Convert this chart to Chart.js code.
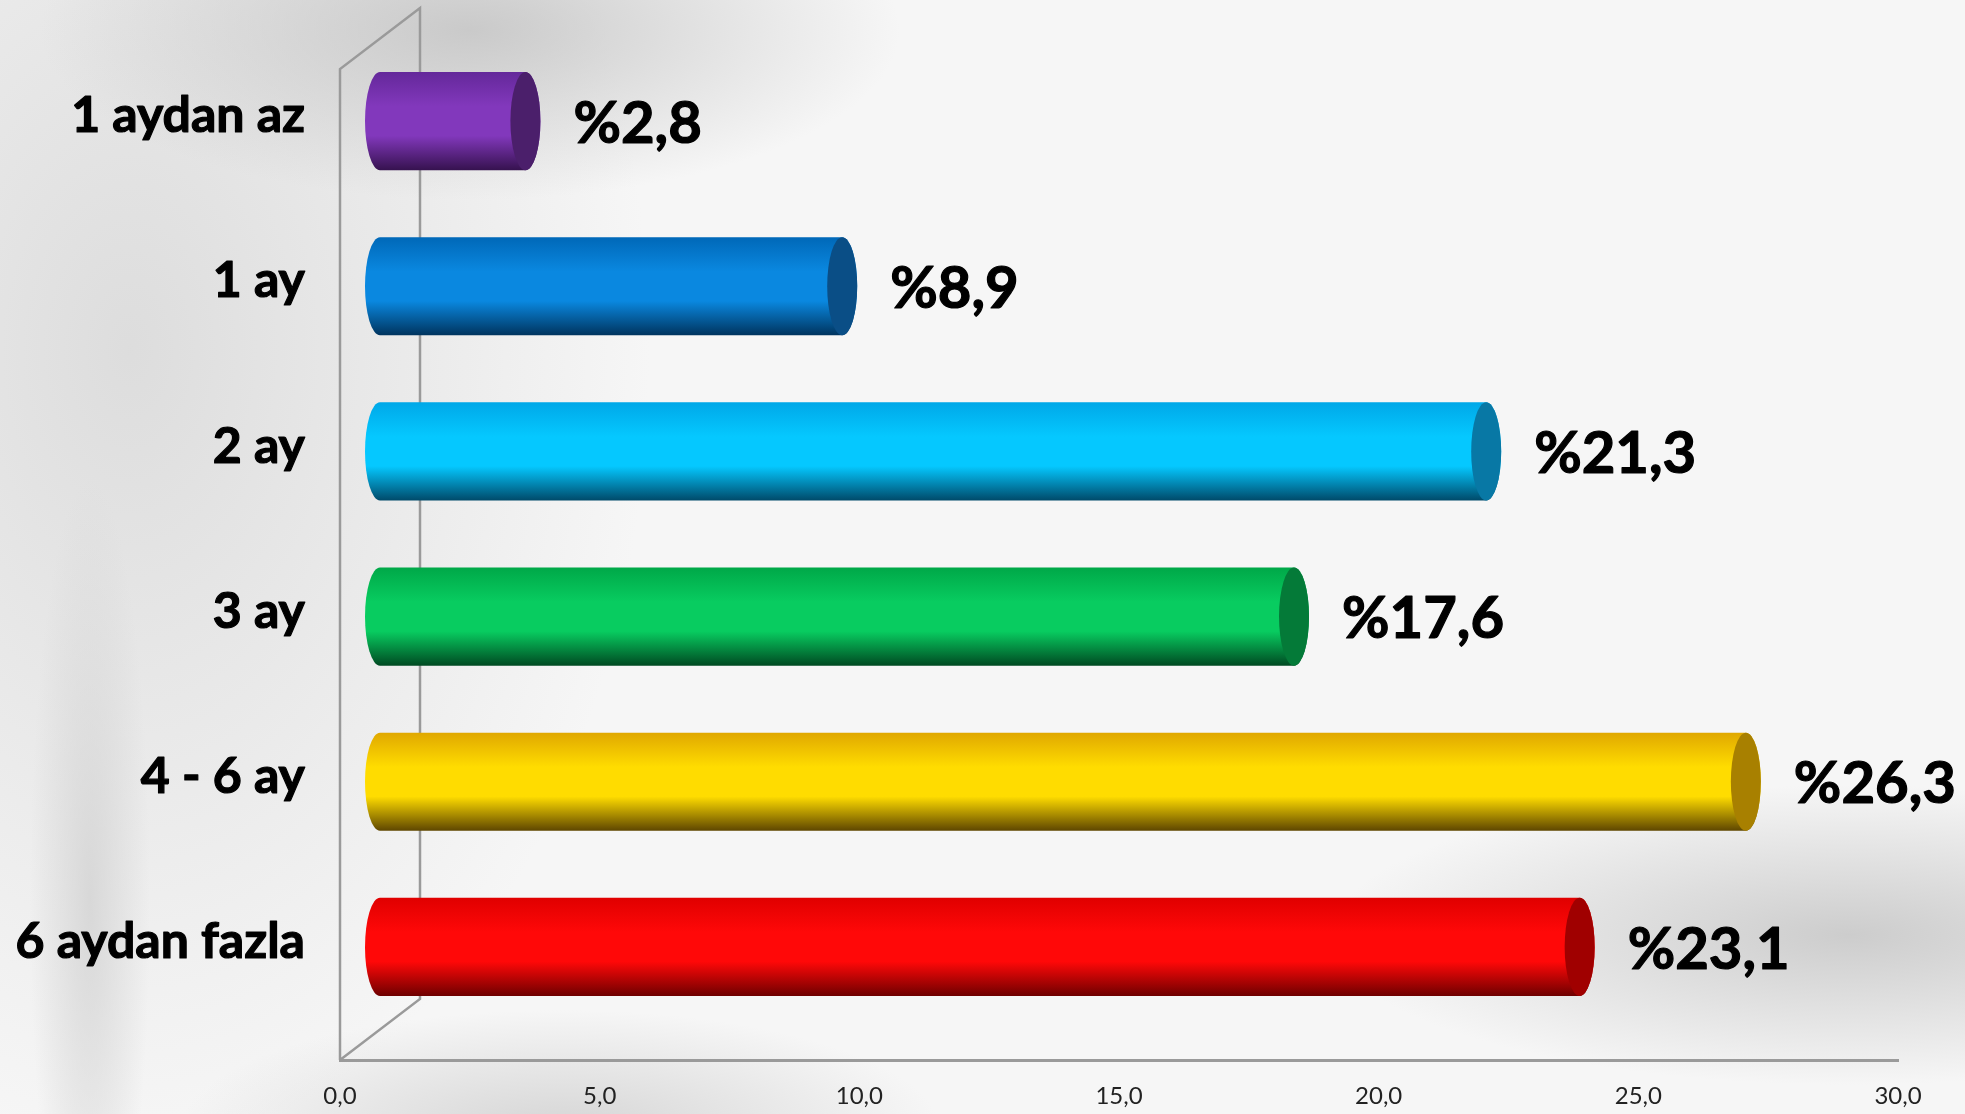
<!DOCTYPE html>
<html>
<head>
<meta charset="utf-8">
<script src="https://cdn.jsdelivr.net/npm/chart.js@4"></script>
<style>
  html, body { margin: 0; padding: 0; }
  body {
    width: 1965px;
    height: 1114px;
    overflow: hidden;
    background:
      radial-gradient(ellipse 430px 170px at 470px 30px, rgba(195,195,195,0.85), rgba(200,200,200,0)),
      radial-gradient(ellipse 520px 150px at 1850px 935px, rgba(200,200,200,0.9), rgba(200,200,200,0)),
      radial-gradient(ellipse 380px 120px at 560px 1130px, rgba(205,205,205,0.8), rgba(205,205,205,0)),
      radial-gradient(ellipse 60px 420px at 90px 900px, rgba(210,210,210,0.8), rgba(210,210,210,0)),
      radial-gradient(ellipse 520px 800px at 130px 350px, rgba(218,218,218,0.9), rgba(225,225,225,0)),
      #f6f6f6;
  }
  canvas { display: block; }
</style>
</head>
<body>
<canvas id="chart" width="1965" height="1114"></canvas>
<script>
// data
const categories = ["1 aydan az", "1 ay", "2 ay", "3 ay", "4 - 6 ay", "6 aydan fazla"];
const values = [2.8, 8.9, 21.3, 17.6, 26.3, 23.1];
const valueLabels = ["%2,8", "%8,9", "%21,3", "%17,6", "%26,3", "%23,1"];
const tickLabels = ["0,0", "5,0", "10,0", "15,0", "20,0", "25,0", "30,0"];

// cylinder shading per bar: top edge, highlight, bottom, end cap
const topColors = ["#64289a", "#0068b8", "#00a8e8", "#00a848", "#e0a800", "#e00000"];
const lightColors = ["#8238bc", "#0a88e0", "#05c8ff", "#08cc60", "#ffdc00", "#ff0808"];
const bottomColors = ["#36124f", "#00345e", "#004a6a", "#004a22", "#5e4600", "#6e0000"];
const capColors = ["#4b1f6b", "#0a4e86", "#0878a5", "#047a38", "#a88000", "#a00000"];

const DEPTH_X = 80;
const DEPTH_Y = -61;
const WALL_COLOR = "#9a9a9a";
const FONT = "Lato, 'Open Sans', sans-serif";

function drawCylinder(ctx, x0, x1, yc, h, i) {
    const rx = 15;
    const ry = h / 2;
    const grad = ctx.createLinearGradient(0, yc - ry, 0, yc + ry);
    grad.addColorStop(0, topColors[i]);
    grad.addColorStop(0.35, lightColors[i]);
    grad.addColorStop(0.65, lightColors[i]);
    grad.addColorStop(1, bottomColors[i]);

    ctx.beginPath();
    ctx.moveTo(x0, yc - ry);
    ctx.lineTo(x1, yc - ry);
    ctx.ellipse(x1, yc, rx, ry, 0, -Math.PI / 2, Math.PI / 2);
    ctx.lineTo(x0, yc + ry);
    ctx.ellipse(x0, yc, rx, ry, 0, Math.PI / 2, Math.PI * 1.5);
    ctx.closePath();
    ctx.fillStyle = grad;
    ctx.fill();

    ctx.beginPath();
    ctx.ellipse(x1, yc, rx, ry, 0, 0, Math.PI * 2);
    ctx.fillStyle = capColors[i];
    ctx.fill();
}

function boldText(ctx, text, x, y) {
    ctx.strokeText(text, x, y);
    ctx.fillText(text, x, y);
}

const cylinderPlugin = {
    id: "cylinders",
    beforeDatasetsDraw(chart) {
        const ctx = chart.ctx;
        const { left, top, bottom } = chart.chartArea;
        ctx.save();
        ctx.strokeStyle = WALL_COLOR;
        ctx.lineWidth = 2.5;
        ctx.beginPath();
        ctx.moveTo(left, bottom);
        ctx.lineTo(left, top);
        ctx.lineTo(left + DEPTH_X, top + DEPTH_Y);
        ctx.lineTo(left + DEPTH_X, bottom + DEPTH_Y);
        ctx.lineTo(left, bottom);
        ctx.stroke();
        ctx.restore();
    },
    afterDatasetsDraw(chart) {
        const ctx = chart.ctx;
        const meta = chart.getDatasetMeta(0);
        const dx = DEPTH_X / 2;
        const dy = DEPTH_Y / 2;
        ctx.save();
        ctx.fillStyle = "#000";
        ctx.strokeStyle = "#000";
        ctx.lineWidth = 1.2;
        ctx.lineJoin = "round";
        ctx.textBaseline = "middle";
        meta.data.forEach((bar, i) => {
            const { x, y, base, height } = bar.getProps(["x", "y", "base", "height"], true);
            const yc = y + dy;
            drawCylinder(ctx, base + dx, x + dx, yc, height, i);

            ctx.fillStyle = "#000";
            ctx.font = "bold 58px " + FONT;
            ctx.textAlign = "left";
            boldText(ctx, valueLabels[i], x + dx + 15 + 33, yc + 3);

            ctx.font = "bold 50px " + FONT;
            ctx.textAlign = "right";
            boldText(ctx, categories[i], 305, yc - 5);
        });
        ctx.restore();
    },
};

new Chart(document.getElementById("chart"), {
    type: "bar",
    data: {
        labels: categories,
        datasets: [
            {
                data: values,
                backgroundColor: "rgba(0,0,0,0)",
                borderWidth: 0,
                barPercentage: 0.594,
                categoryPercentage: 1,
            },
        ],
    },
    options: {
        indexAxis: "y",
        responsive: false,
        animation: false,
        layout: {
            padding: { left: 340, top: 69, right: 67, bottom: 0 },
        },
        plugins: {
            legend: { display: false },
            tooltip: { enabled: false },
        },
        scales: {
            x: {
                min: 0,
                max: 30,
                grid: { display: false, drawTicks: false },
                border: { display: true, color: WALL_COLOR, width: 3 },
                ticks: {
                    stepSize: 5,
                    color: "#222",
                    padding: 22,
                    maxRotation: 0,
                    font: { family: FONT, size: 24 },
                    callback: (value, index) => tickLabels[index],
                },
                afterFit: (scale) => {
                    scale.height = 54;
                },
            },
            y: {
                display: false,
            },
        },
    },
    plugins: [cylinderPlugin],
});
</script>
</body>
</html>
